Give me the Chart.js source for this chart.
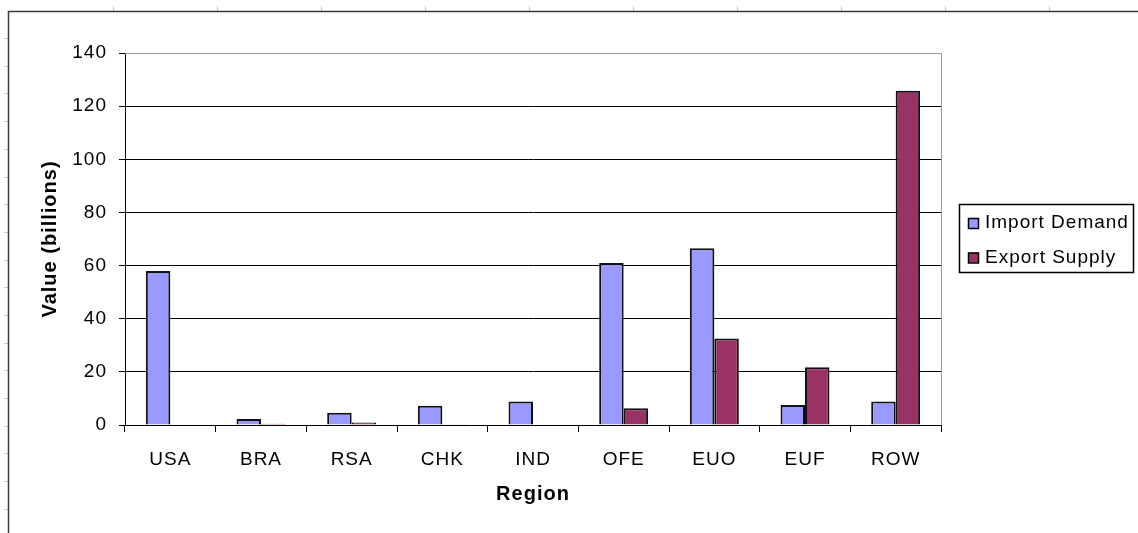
<!DOCTYPE html>
<html>
<head>
<meta charset="utf-8">
<style>
  html, body { margin: 0; padding: 0; background: #fff; }
  #wrap { width: 1138px; height: 533px; position: relative; }
</style>
<script src="https://cdn.jsdelivr.net/npm/chart.js@4/dist/chart.umd.min.js"></script>
</head>
<body>
<div id="wrap"><canvas id="c" width="1138" height="533"></canvas></div>
<script>
// Regions on the category axis
const regions = ['USA', 'BRA', 'RSA', 'CHK', 'IND', 'OFE', 'EUO', 'EUF', 'ROW'];
// Values in billions
const importDemand = [58, 2.3, 4.6, 7.2, 8.8, 61, 66.5, 7.5, 8.8];
const exportSupply = [0, 0.5, 0.9, 0.3, 0, 6.3, 32.6, 21.7, 125.8];
// Value axis range and step
const yMin = 0;
const yMax = 140;
const yStep = 20;

const FONT = '"Liberation Sans", Arial, sans-serif';

// Sheet-style frame behind the chart, plus plot border and boxed legend
const decorations = {
  id: 'decorations',
  beforeDraw(chart) {
    const ctx = chart.ctx;
    // slightly open letter spacing for all chart text
    ctx.letterSpacing = '1px';
    ctx.save();
    // faint sheet gridline marks along top and left
    ctx.strokeStyle = '#c8c8c8';
    ctx.lineWidth = 1;
    ctx.beginPath();
    for (let x = 113; x < 1138; x += 104) {
      ctx.moveTo(x + 0.5, 6); ctx.lineTo(x + 0.5, 11);
    }
    for (let y = 38; y < 533; y += 27.7) {
      const yy = Math.round(y) + 0.5;
      ctx.moveTo(4, yy); ctx.lineTo(8, yy);
    }
    ctx.stroke();
    // frame
    ctx.strokeStyle = '#3a3a3a';
    ctx.lineWidth = 1.5;
    ctx.beginPath();
    ctx.moveTo(8.5, 533); ctx.lineTo(8.5, 11.5); ctx.lineTo(1138, 11.5);
    ctx.stroke();
    ctx.restore();
  },
  afterDraw(chart) {
    const ctx = chart.ctx;
    const a = chart.chartArea;
    ctx.save();
    // plot area border, top and right
    ctx.strokeStyle = '#9a9a9a';
    ctx.lineWidth = 1;
    ctx.beginPath();
    ctx.moveTo(a.left, Math.round(a.top) + 0.5);
    ctx.lineTo(Math.round(a.right) + 0.5, Math.round(a.top) + 0.5);
    ctx.lineTo(Math.round(a.right) + 0.5, a.bottom);
    ctx.stroke();

    // legend box
    const lx = 959, ly = 204, lw = 174, lh = 68;
    ctx.strokeStyle = '#000';
    ctx.lineWidth = 1.5;
    ctx.strokeRect(lx + 0.5, ly + 0.5, lw, lh);
    ctx.font = '19px ' + FONT;
    ctx.letterSpacing = '1px';
    ctx.textBaseline = 'middle';
    ctx.textAlign = 'left';
    chart.data.datasets.forEach((ds, i) => {
      const cy = 223 + i * 34.5;
      ctx.fillStyle = ds.backgroundColor;
      ctx.fillRect(968, cy - 5, 10, 10);
      ctx.strokeStyle = '#000';
      ctx.lineWidth = 1.5;
      ctx.strokeRect(968.5, cy - 4.5, 10, 10);
      ctx.fillStyle = '#000';
      ctx.fillText(ds.label, 985, cy);
    });
    ctx.restore();
  }
};

new Chart(document.getElementById('c'), {
  type: 'bar',
  data: {
    labels: regions,
    datasets: [
      {
        label: 'Import Demand',
        data: importDemand,
        backgroundColor: '#9999FF',
        borderColor: '#111',
        borderWidth: 2,
        categoryPercentage: 0.54,
        barPercentage: 1.0
      },
      {
        label: 'Export Supply',
        data: exportSupply,
        backgroundColor: '#993366',
        borderColor: '#111',
        borderWidth: 2,
        categoryPercentage: 0.54,
        barPercentage: 1.0
      }
    ]
  },
  options: {
    responsive: false,
    animation: false,
    layout: { padding: { left: 0, right: 197, top: 53, bottom: 0 } },
    plugins: {
      legend: { display: false },
      tooltip: { enabled: false }
    },
    scales: {
      x: {
        grid: {
          display: true,
          drawOnChartArea: false,
          drawTicks: true,
          tickLength: 7,
          color: '#000',
          offset: true
        },
        border: { display: true, color: '#000', width: 1 },
        ticks: {
          color: '#000',
          font: { family: FONT, size: 19 },
          padding: 16,
          maxRotation: 0
        },
        title: {
          display: true,
          text: 'Region',
          color: '#000',
          font: { family: FONT, size: 20, weight: 'bold' },
          padding: { top: 0, bottom: 27 }
        },
        afterFit(scale) { scale.height = 108; }
      },
      y: {
        min: yMin,
        max: yMax,
        ticks: {
          stepSize: yStep,
          color: '#000',
          font: { family: FONT, size: 19 },
          padding: 12
        },
        grid: {
          color: (c) => (c.tick && c.tick.value === yMax ? '#9a9a9a' : '#000'),
          tickColor: '#000',
          lineWidth: 1,
          tickLength: 6,
          drawTicks: true
        },
        border: { display: true, color: '#000', width: 1 },
        title: {
          display: true,
          text: 'Value (billions)',
          color: '#000',
          font: { family: FONT, size: 20, weight: 'bold' },
          padding: { top: 38, bottom: 0 }
        },
        afterFit(scale) { scale.width = 125; }
      }
    }
  },
  plugins: [decorations]
});
</script>
</body>
</html>
